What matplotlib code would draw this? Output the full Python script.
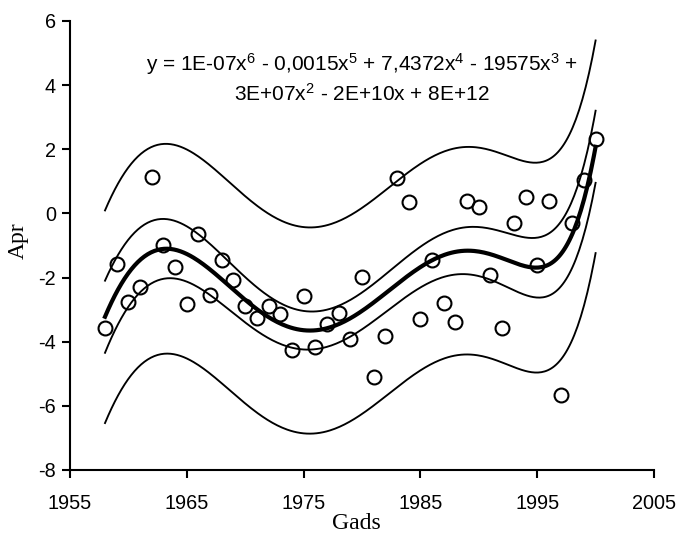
import numpy as np
import matplotlib
matplotlib.use("Agg")
from matplotlib import pyplot as plt

# observed values, one per year
years = list(range(1958, 2001))
apr = [-3.57, -1.57, -2.75, -2.31, 1.12, -0.98, -1.67, -2.82, -0.65, -2.54,
       -1.45, -2.08, -2.90, -3.27, -2.90, -3.14, -4.27, -2.59, -4.17, -3.44,
       -3.12, -3.92, -1.99, -5.10, -3.82, 1.10, 0.35, -3.28, -1.45, -2.78,
       -3.38, 0.38, 0.20, -1.93, -3.56, -0.30, 0.50, -1.60, 0.38, -5.67,
       -0.30, 1.04, 2.33]

eq_line1 = (r"y = 1E-07x$\mathregular{^6}$ - 0,0015x$\mathregular{^5}$ + "
            r"7,4372x$\mathregular{^4}$ - 19575x$\mathregular{^3}$ +")
eq_line2 = r"3E+07x$\mathregular{^2}$ - 2E+10x + 8E+12"

x = np.array(years, dtype=float)
y = np.array(apr)
n = len(y)

# 6th order polynomial trend
deg = 6
xc = x.mean()
coef = np.polyfit(x - xc, y, deg)
resid = y - np.polyval(coef, x - xc)
s_res = np.sqrt(np.sum(resid ** 2) / (n - deg - 1))
s_y = np.std(y, ddof=1)
t_val = 2.028

xs = np.linspace(x.min(), x.max(), 300)
fit = np.polyval(coef, xs - xc)
# band widths (linear-regression style leverage, as the source program draws them)
h = 1.0 / n + (xs - xc) ** 2 / np.sum((x - xc) ** 2)
conf = t_val * s_y * np.sqrt(h)
pred = t_val * s_res * np.sqrt(1 + h)

plt.rcParams["font.family"] = ["Liberation Sans", "DejaVu Sans"]
plt.rcParams["mathtext.fontset"] = "custom"
plt.rcParams["mathtext.rm"] = "Liberation Sans"
plt.rcParams["axes.unicode_minus"] = False

fig = plt.figure(figsize=(6.78, 5.34), dpi=100)
ax = fig.add_axes([0.1032, 0.1199, 0.8614, 0.8408])

ax.plot(xs, fit, "-k", lw=3.0)
ax.plot(xs, fit + conf, "-k", lw=1.35)
ax.plot(xs, fit - conf, "-k", lw=1.35)
ax.plot(xs, fit + pred, "-k", lw=1.35)
ax.plot(xs, fit - pred, "-k", lw=1.35)
ax.plot(x, y, "o", mfc="none", mec="k", ms=10, mew=1.5)

ax.set_xlim(1955, 2005)
ax.set_ylim(-8, 6)
ax.set_xticks([1955, 1965, 1975, 1985, 1995, 2005])
ax.set_yticks([-8, -6, -4, -2, 0, 2, 4, 6])
ax.spines["top"].set_visible(False)
ax.spines["right"].set_visible(False)
ax.spines["left"].set_linewidth(1.5)
ax.spines["bottom"].set_linewidth(1.5)
ax.tick_params(direction="out", length=6, width=1.5, labelsize=14.3, pad=4)
ax.tick_params(axis="x", pad=11)

ax.set_xlabel("Gads", family="Liberation Serif", fontsize=17, va="baseline")
ax.xaxis.set_label_coords(0.491, -0.131)
ax.set_ylabel("Apr", family="Liberation Serif", fontsize=17, va="center")
ax.yaxis.set_label_coords(-0.089, 0.51)

ax.text(0.50, 0.905, eq_line1, transform=ax.transAxes, ha="center", va="center", fontsize=15)
ax.text(0.50, 0.838, eq_line2, transform=ax.transAxes, ha="center", va="center", fontsize=15)

fig.savefig("out.png", dpi=100)
